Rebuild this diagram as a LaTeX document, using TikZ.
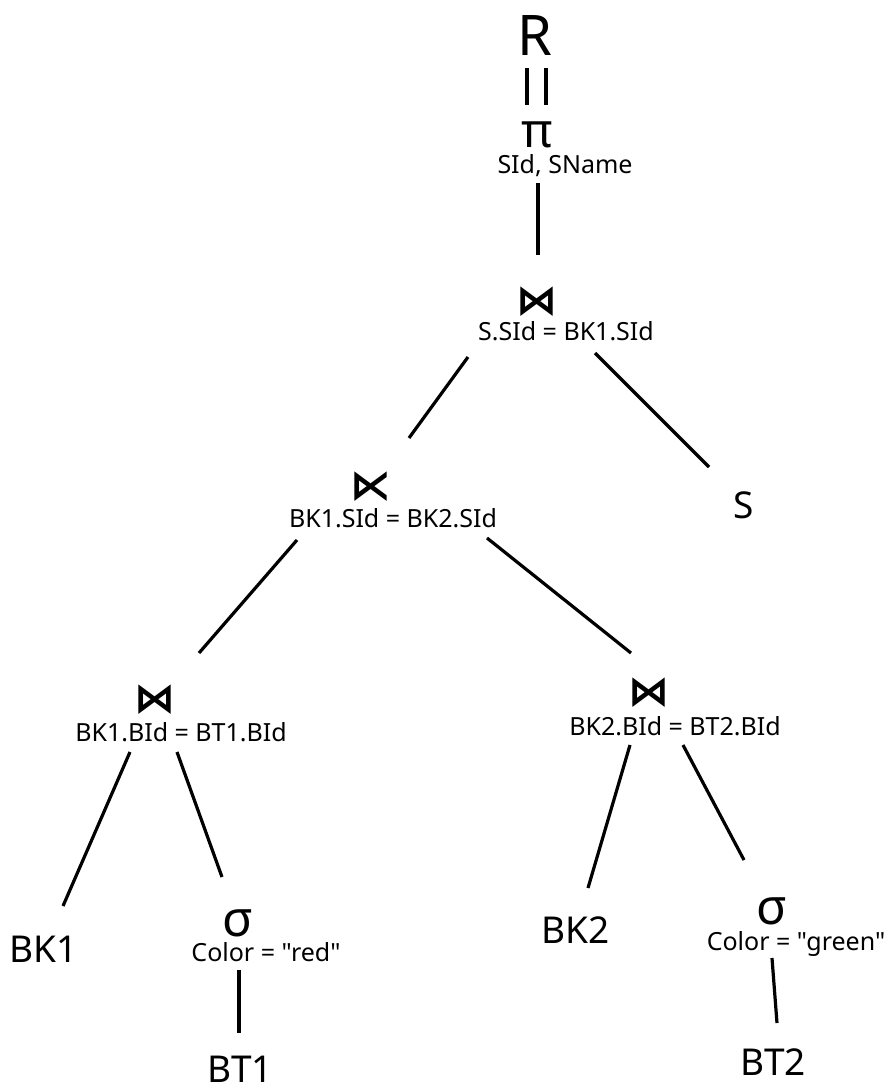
\documentclass[tikz,border=0pt]{standalone}
\usepackage{fontspec}
\newfontfamily\notofont{Noto Sans}
\newfontfamily\symfont{DejaVu Sans}
\begin{document}
\begin{tikzpicture}[x=1pt,y=-1pt,
  conn/.style={line width=3.2pt},
  big/.style={font=\notofont\fontsize{37}{37}\selectfont, anchor=base, inner sep=0pt, text depth=0pt},
  cond/.style={font=\notofont\fontsize{25}{25}\selectfont, anchor=base, inner sep=0pt},
  joinop/.style={font=\symfont\bfseries\fontsize{41}{41}\selectfont, inner sep=0pt},
  greek/.style={font=\notofont\fontsize{50}{50}\selectfont, anchor=base, inner sep=0pt, text depth=0pt}]
\useasboundingbox[fill=white] (0,0) rectangle (894,1088);

% result
\node[font=\notofont\fontsize{56}{56}\selectfont, anchor=base, inner sep=0pt, text depth=0pt] (R) at (535,55) {R};
\draw[line width=3.4pt] (527,68) -- (527,105);
\draw[line width=3.4pt] (546,68) -- (546,105);

% projection
\node[greek, font=\notofont\fontsize{48}{48}\selectfont] (pi) at (537,147) {π};
\node[cond] (pic) at (565,173) {SId, SName};

% top join
\node[joinop] (j1) at (537,302) {⋈};
\node[cond] (j1c) at (566,340) {S.SId = BK1.SId};

% semijoin
\node[joinop] (sj) at (371,487) {⋉};
\node[cond] (sjc) at (393,527) {BK1.SId = BK2.SId};

% S
\node[big] (S) at (744,518) {S};

% left join
\node[joinop] (j2) at (155,700) {⋈};
\node[cond] (j2c) at (181,741) {BK1.BId = BT1.BId};

% right join
\node[joinop] (j3) at (649,693) {⋈};
\node[cond] (j3c) at (675,735) {BK2.BId = BT2.BId};

% leaves
\node[big] (BK1) at (44,962) {BK1};
\node[big] (BK2) at (576,943) {BK2};
\node[greek] (s1) at (238,936) {σ};
\node[cond] (s1c) at (266,961) {Color = "red"};
\node[big] (BT1) at (240,1082) {BT1};
\node[greek] (s2) at (772,924) {σ};
\node[cond] (s2c) at (796,950) {Color = "green"};
\node[big] (BT2) at (773,1075) {BT2};

% connector end points
\coordinate (a1) at (538,183); \coordinate (a2) at (538,255);
\coordinate (b1) at (468,357); \coordinate (b2) at (409,438);
\coordinate (c1) at (595,353); \coordinate (c2) at (709,467);
\coordinate (d1) at (297,540); \coordinate (d2) at (199,653);
\coordinate (e1) at (487,538); \coordinate (e2) at (631,653);
\coordinate (f1) at (130,752); \coordinate (f2) at (63,906);
\coordinate (g1) at (177,752); \coordinate (g2) at (222,877);
\coordinate (h1) at (630,745); \coordinate (h2) at (588,888);
\coordinate (i1) at (683,745); \coordinate (i2) at (744,860);
\coordinate (k1) at (239,970); \coordinate (k2) at (239,1033);
\coordinate (l1) at (772,958); \coordinate (l2) at (777,1023);

\draw[conn] (a1) -- (a2);
\draw[conn] (b1) -- (b2);
\draw[conn] (c1) -- (c2);
\draw[conn] (d1) -- (d2);
\draw[conn] (e1) -- (e2);
\draw[conn] (f1) -- (f2);
\draw[conn] (g1) -- (g2);
\draw[conn] (h1) -- (h2);
\draw[conn] (i1) -- (i2);
\draw[conn] (k1) -- (k2);
\draw[conn] (l1) -- (l2);
\end{tikzpicture}
\end{document}
